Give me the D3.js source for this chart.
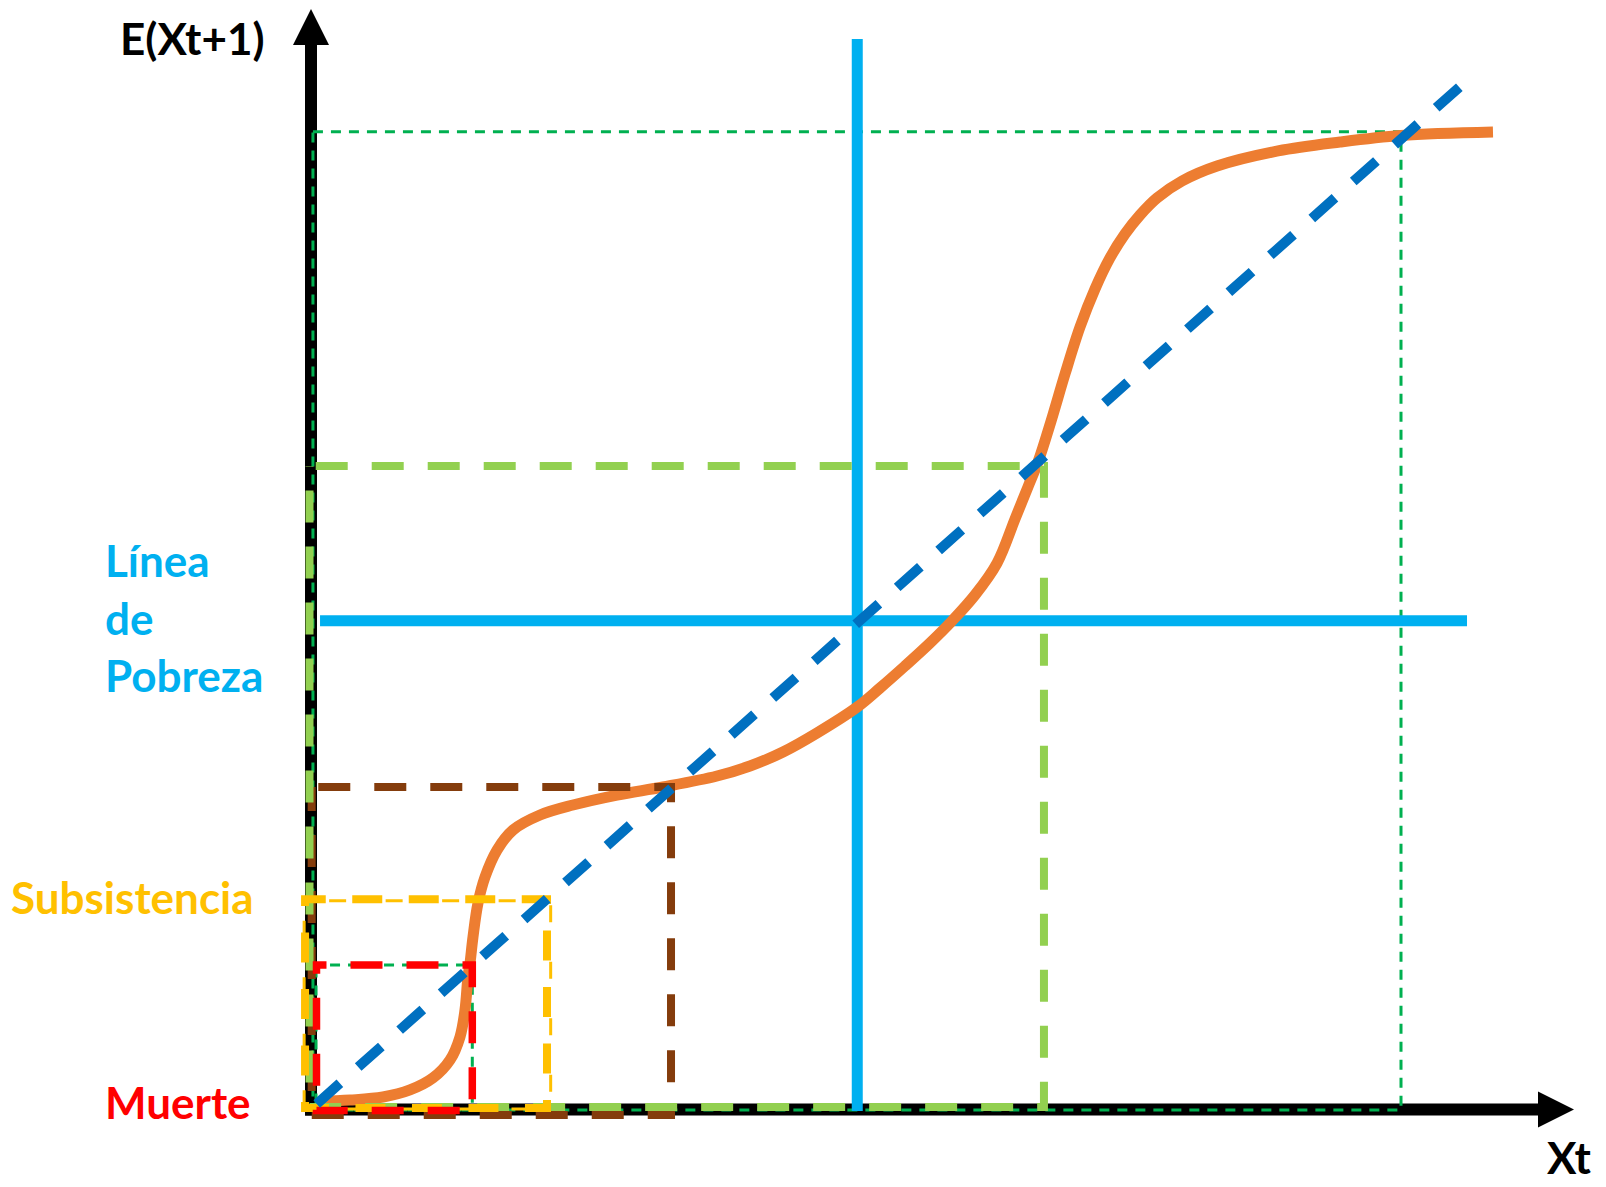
<!DOCTYPE html>
<html>
<head>
<meta charset="utf-8">
<script src="https://cdn.jsdelivr.net/npm/d3@7"></script>
<style>
html,body{margin:0;padding:0;background:#ffffff;}
svg{display:block;}
text{font-family:Lato,"Open Sans","Noto Sans",sans-serif;font-weight:700;}
</style>
</head>
<body>
<svg id="chart" width="1606" height="1187"></svg>
<script>
// ---------------- DATA ----------------
// S-shaped expectation curve E(Xt+1) = f(Xt)
const curveX = [0.61, 3.41, 6.29, 8.65, 10.66, 12.15, 13.02, 13.46, 13.72, 13.9, 14.16, 14.6, 15.21, 16.26, 17.66, 20.02, 22.9, 26.75, 30.77, 35.49, 38.37, 41.26, 44.23, 47.75, 49.74, 51.92, 54.11, 56.03, 58.04, 59.97, 61.54, 62.67, 63.55, 64.69, 65.91, 67.22, 68.53, 69.84, 71.15, 72.47, 73.95, 76.14, 79.2, 84.53, 89.95, 95.28, 103.32];
const curveY = [0.74, 0.88, 1.18, 1.87, 3.05, 4.81, 7.07, 9.72, 12.97, 14.34, 16.9, 20.24, 22.79, 25.44, 27.41, 28.88, 29.86, 30.84, 31.63, 32.71, 33.69, 35.07, 36.94, 39.49, 41.36, 43.52, 45.78, 47.94, 50.49, 53.63, 57.96, 61.1, 63.56, 67.58, 72.2, 76.82, 80.55, 83.6, 85.95, 87.82, 89.49, 91.16, 92.63, 94.11, 94.99, 95.63, 95.97];

// 45-degree line Xt+1 = Xt
const diagonalX = [0.5, 100.5];

// poverty line (vertical at x, horizontal at y)
const povertyX = 47.75;
const povertyY = 47.97;
const povertyVSpan = [-0.2, 105.1];
const povertyHSpan = [0.79, 101.05];

// threshold boxes: [left, bottom, right, top]
const boxBrown       = [0.06, -0.59, 31.47, 31.63];
const boxLightGreen  = [-0.13, 0.2, 64.07, 63.16];
const boxYellowThin  = [-0.6, 0.0, 20.95, 20.46];
const boxYellowThick = [-0.52, 0.1, 20.63, 20.6];
const boxThinGreenBig   = [0.17, -0.1, 95.28, 96.0];
const boxThinGreenSmall = [0.44, -0.1, 14.1, 14.15];
const boxRed         = [0.48, -0.15, 14.1, 14.15];

// axes extent
const xAxisSpan = [-0.52, 110.4];
const yAxisSpan = [-0.64, 108.06];

// labels
const axisLabels = ["E(Xt+1)", "Xt"];
const povertyLabel = ["Línea", "de", "Pobreza"];
const subsLabel = "Subsistencia";
const deathLabel = "Muerte";

// ---------------- STYLES ----------------
const C = {
  axis: "#000000",
  curve: "#ED7D31",
  diag: "#0070C0",
  poverty: "#00B0F0",
  brown: "#843C0C",
  lightGreen: "#92D050",
  yellow: "#FFC000",
  thinGreen: "#00B050",
  red: "#FF0000"
};

// ---------------- SCALES ----------------
const x = d3.scaleLinear().domain([0, 100]).range([311, 1455]);
const y = d3.scaleLinear().domain([0, 100]).range([1109, 91]);

const svg = d3.select("#chart");
svg.append("rect").attr("width", 1606).attr("height", 1187).attr("fill", "#ffffff");

// ---------------- AXES ----------------
const head = 36, headW = 18;
const ax = svg.append("g");
ax.append("line")
  .attr("x1", x(0)).attr("x2", x(0))
  .attr("y1", y(yAxisSpan[0])).attr("y2", y(yAxisSpan[1]) + head - 1)
  .attr("stroke", C.axis).attr("stroke-width", 12);
ax.append("path")
  .attr("d", `M${x(0)},${y(yAxisSpan[1])} L${x(0) + headW},${y(yAxisSpan[1]) + head} L${x(0) - headW},${y(yAxisSpan[1]) + head} Z`)
  .attr("fill", C.axis);
ax.append("line")
  .attr("x1", x(xAxisSpan[0])).attr("x2", x(xAxisSpan[1]) - head + 1)
  .attr("y1", y(0) + 0.5).attr("y2", y(0) + 0.5)
  .attr("stroke", C.axis).attr("stroke-width", 12);
ax.append("path")
  .attr("d", `M${x(xAxisSpan[1])},${y(0) + 0.5} L${x(xAxisSpan[1]) - head},${y(0) + 0.5 - headW} L${x(xAxisSpan[1]) - head},${y(0) + 0.5 + headW} Z`)
  .attr("fill", C.axis);

// ---------------- helpers ----------------
function rectPath(b) {
  const [l, bo, r, t] = b;
  return `M${x(l)},${y(t)} L${x(r)},${y(t)} L${x(r)},${y(bo)} L${x(l)},${y(bo)} Z`;
}
function box(b, color, width, dash, offset) {
  svg.append("path")
    .attr("d", rectPath(b))
    .attr("fill", "none")
    .attr("stroke", color)
    .attr("stroke-width", width)
    .attr("stroke-dasharray", dash)
    .attr("stroke-dashoffset", offset)
    .attr("stroke-linejoin", "miter");
}

box(boxThinGreenBig, C.thinGreen, 3, "10,8", 0);
box(boxThinGreenSmall, C.thinGreen, 3, "10,8", 4);

// ---------------- POVERTY LINES ----------------
svg.append("line")
  .attr("x1", x(povertyX)).attr("x2", x(povertyX))
  .attr("y1", y(povertyVSpan[0])).attr("y2", y(povertyVSpan[1]))
  .attr("stroke", C.poverty).attr("stroke-width", 11);
svg.append("line")
  .attr("x1", x(povertyHSpan[0])).attr("x2", x(povertyHSpan[1]))
  .attr("y1", y(povertyY)).attr("y2", y(povertyY))
  .attr("stroke", C.poverty).attr("stroke-width", 11);

// ---------------- CURVE ----------------
const curveData = curveX.map((v, i) => [v, curveY[i]]);
svg.append("path")
  .datum(curveData)
  .attr("d", d3.line().x(d => x(d[0])).y(d => y(d[1])).curve(d3.curveCatmullRom.alpha(0.5)))
  .attr("fill", "none")
  .attr("stroke", C.curve)
  .attr("stroke-width", 11)
  .attr("stroke-linejoin", "round");

// ---------------- BOXES ----------------
box(boxBrown, C.brown, 8, "32,24", 49.4);
box(boxLightGreen, C.lightGreen, 8, "32,24", 49.8);
box(boxYellowThin, C.yellow, 3, "17,39.5", 31.5);
box(boxYellowThick, C.yellow, 8, "30,26.5", 9.3);
box(boxRed, C.red, 7.5, "32,24", 22);

// ---------------- DIAGONAL ----------------
svg.append("line")
  .attr("x1", x(diagonalX[0])).attr("y1", y(diagonalX[0]))
  .attr("x2", x(diagonalX[1])).attr("y2", y(diagonalX[1]))
  .attr("stroke", C.diag).attr("stroke-width", 10)
  .attr("stroke-dasharray", "31,24.5");

// ---------------- LABELS ----------------
const fs = 44;
svg.append("text").text(axisLabels[0])
  .attr("x", x(0) - 191).attr("y", y(yAxisSpan[1]) + 46)
  .attr("font-size", fs).attr("fill", "#000");
svg.append("text").text(axisLabels[1])
  .attr("x", x(xAxisSpan[1]) + 17).attr("y", y(0) + 65)
  .attr("text-anchor", "end")
  .attr("font-size", fs).attr("fill", "#000");

povertyLabel.forEach((t, i) => {
  svg.append("text").text(t)
    .attr("x", 105).attr("y", y(povertyY) + 14 + (i - 1) * 57.5)
    .attr("font-size", fs).attr("fill", C.poverty);
});
svg.append("text").text(subsLabel)
  .attr("x", 11).attr("y", y(boxYellowThick[3]) + 15)
  .attr("font-size", fs).attr("fill", C.yellow);
svg.append("text").text(deathLabel)
  .attr("x", 105).attr("y", y(0) + 10)
  .attr("font-size", fs).attr("fill", C.red);
</script>
</body>
</html>
